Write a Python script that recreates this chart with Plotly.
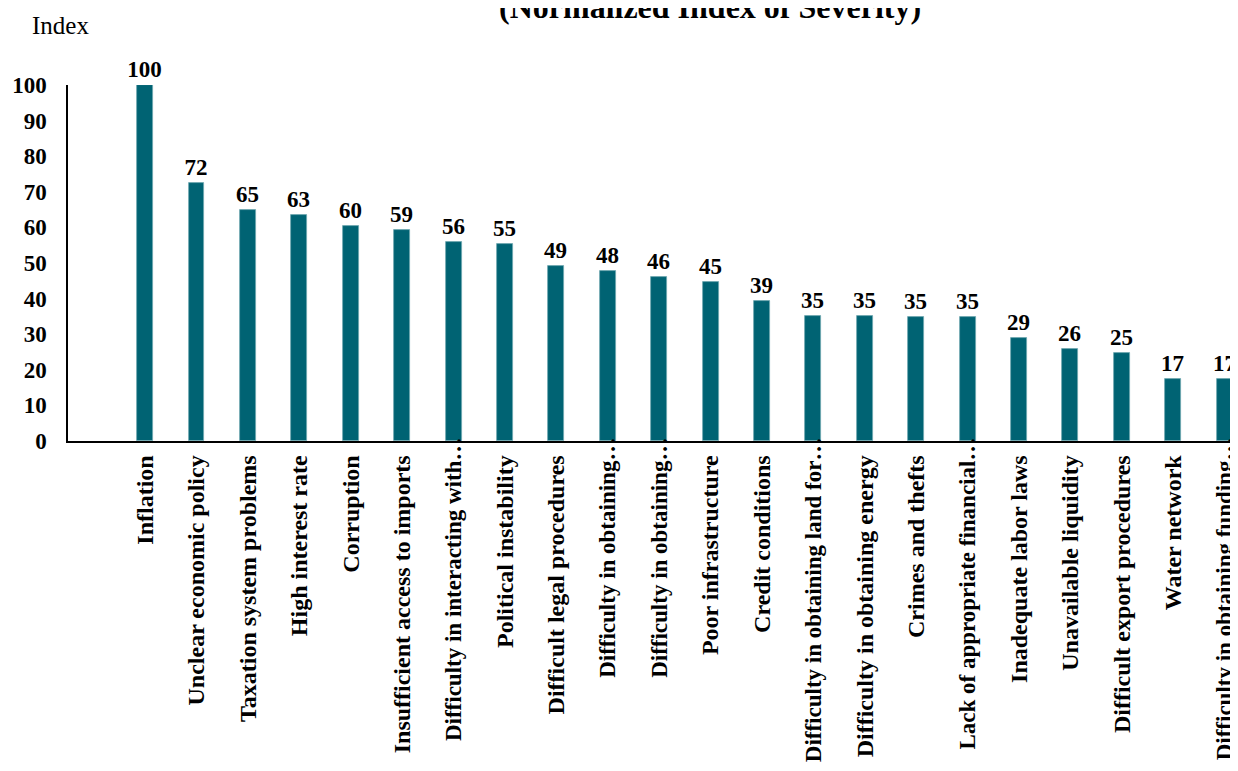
import plotly.graph_objects as go

categories = [
    "Inflation",
    "Unclear economic policy",
    "Taxation system problems",
    "High interest rate",
    "Corruption",
    "Insufficient access to imports",
    "Difficulty in interacting with…",
    "Political instability",
    "Difficult legal procedures",
    "Difficulty in obtaining…",
    "Difficulty in obtaining…",
    "Poor infrastructure",
    "Credit conditions",
    "Difficulty in obtaining land for…",
    "Difficulty in obtaining energy",
    "Crimes and thefts",
    "Lack of appropriate financial…",
    "Inadequate labor laws",
    "Unavailable liquidity",
    "Difficult export procedures",
    "Water network",
    "Difficulty in obtaining funding…",
]
values = [100, 72.4, 64.9, 63.4, 60.4, 59.3, 55.9, 55.3, 49.2, 47.8, 46.1, 44.7,
          39.4, 35.2, 35.1, 34.8, 34.7, 28.8, 25.9, 24.8, 17.4, 17.3]
y_ticks = [0, 10, 20, 30, 40, 50, 60, 70, 80, 90, 100]

positions = list(range(1, len(categories) + 1))
labels = [f"{round(v)}" for v in values]

full_pos = [p for p, c in zip(positions, categories) if not c.endswith("…")]
full_txt = [c for c in categories if not c.endswith("…")]
trunc_pos = [p for p, c in zip(positions, categories) if c.endswith("…")]
trunc_txt = [c for c in categories if c.endswith("…")]
trunc_val = [v for v, c in zip(values, categories) if c.endswith("…")]

# page has an 8px body margin; figure coordinates are offset accordingly
OFF = 8
W, H = 1238, 771
left, right, top, bottom = 68 - OFF, OFF, 85 - OFF, 330 + OFF
plot_h = H - top - bottom
plot_w = W - left - right
x_range = [-0.5, 22.26]

def py(p):  # page pixel y -> paper
    return (H - bottom - (p - OFF)) / plot_h

def px(p):  # page pixel x -> paper
    return ((p - OFF) - left) / plot_w

fig = go.Figure()
fig.add_trace(go.Bar(
    x=positions, y=values, width=0.31,
    marker=dict(color="#006373", line=dict(color="#6fa7b0", width=0.8)),
    text=labels, textposition="outside", cliponaxis=False, constraintext="none",
    textfont=dict(family="Liberation Serif", size=23, color="black", weight="bold"),
))
# invisible helper so the overlaid axis (labels of truncated categories) is drawn
fig.add_trace(go.Scatter(
    x=trunc_pos, y=trunc_val, xaxis="x2", mode="markers",
    marker=dict(opacity=0, size=1), hoverinfo="skip", showlegend=False,
))

fig.update_layout(
    width=W, height=H,
    margin=dict(l=left, r=right, t=top, b=bottom, autoexpand=False),
    plot_bgcolor="white", paper_bgcolor="white",
    showlegend=False,
    font=dict(family="Liberation Serif", color="black"),
    bargap=0,
    xaxis=dict(
        range=x_range, tickmode="array", tickvals=full_pos, ticktext=full_txt,
        tickangle=-90, showgrid=False, zeroline=False, automargin=False,
        showline=True, linecolor="black", linewidth=1.5,
        tickfont=dict(family="Liberation Serif", size=24, color="black", weight="bold"),
        ticks="", ticklabelstandoff=3,
    ),
    xaxis2=dict(
        range=x_range, overlaying="x", anchor="y", side="bottom",
        tickmode="array", tickvals=trunc_pos, ticktext=trunc_txt,
        tickangle=-90, showgrid=False, zeroline=False, automargin=False,
        showline=False,
        tickfont=dict(family="Liberation Serif", size=23, color="black", weight="bold"),
        ticks="", ticklabelstandoff=-9,
    ),
    yaxis=dict(
        range=[0, 100], tickmode="array", tickvals=y_ticks,
        showgrid=False, zeroline=False, automargin=False,
        showline=True, linecolor="black", linewidth=1.5,
        tickfont=dict(family="Liberation Serif", size=23, color="black", weight="bold"),
        ticks="", ticklabelstandoff=15,
    ),
)
fig.add_annotation(
    text="(Normalized Index of Severity)", xref="paper", yref="paper",
    x=px(710), y=py(7), xanchor="center", yanchor="middle",
    showarrow=False,
    font=dict(family="Liberation Serif", size=32, color="black", weight="bold"),
)
fig.add_annotation(
    text="Index", xref="paper", yref="paper",
    x=px(30), y=py(25), xanchor="left", yanchor="middle",
    showarrow=False,
    font=dict(family="Liberation Serif", size=25, color="black"),
)
fig.write_html("out.html")
